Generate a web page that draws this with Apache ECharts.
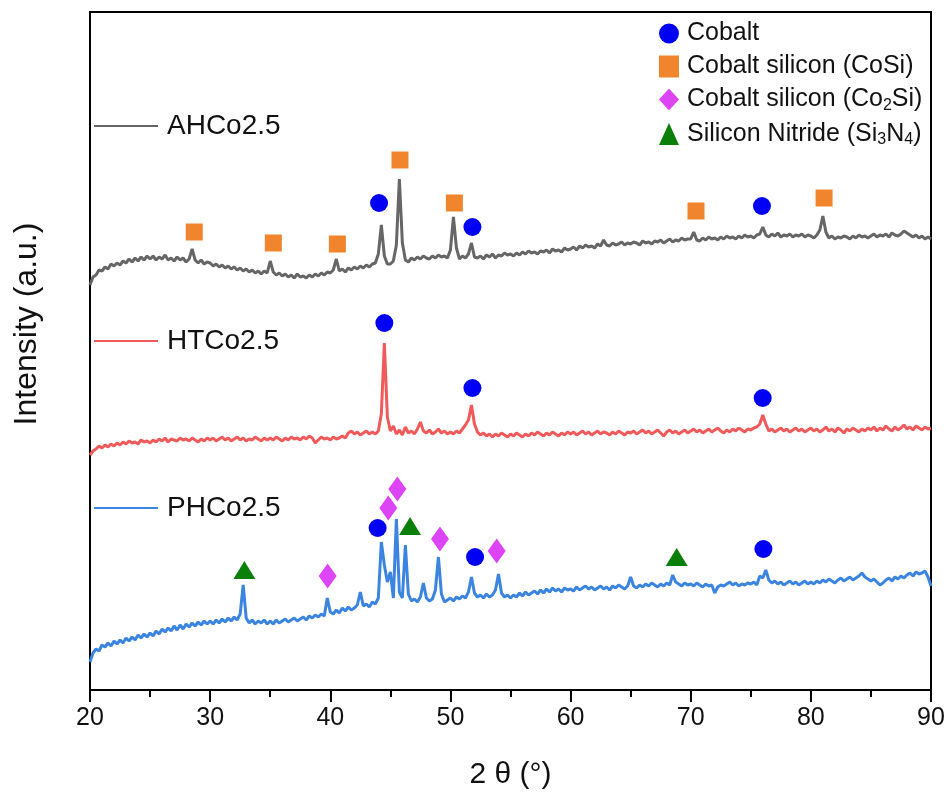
<!DOCTYPE html>
<html>
<head>
<meta charset="utf-8">
<style>
  html, body { margin: 0; padding: 0; background: #fff; }
  #chart { width: 949px; height: 798px; }
</style>
<script src="https://cdn.jsdelivr.net/npm/echarts@6/dist/echarts.min.js"></script>
</head>
<body>
<div id="chart"></div>
<script>
// XRD patterns, 2θ from 20° to 90° sampled every 0.25°; intensities are stacked (offset) in arbitrary units.
const thetaStart = 20;
const thetaStep = 0.25;
const xTicks = [20, 30, 40, 50, 60, 70, 80, 90];

const ahIntensity = [
  405, 413, 415, 420, 419, 423, 421, 426, 424, 427, 425, 429, 427, 431, 428, 432, 429, 433, 430, 434,
  431, 434, 430, 433, 431, 435, 430, 432, 429, 433, 430, 432, 428, 431, 441, 430, 427, 430, 426, 428,
  427, 424, 426, 423, 425, 422, 424, 421, 423, 420, 422, 419, 421, 418, 420, 417, 419, 416, 419, 417,
  429, 418, 415, 417, 414, 416, 413, 415, 412, 416, 413, 414, 412, 415, 413, 416, 414, 417, 415, 418,
  417, 420, 431, 419, 421, 418, 422, 420, 423, 421, 424, 422, 425, 423, 426, 427, 436, 465, 434, 426,
  426, 429, 445, 511, 447, 430, 428, 432, 430, 433, 431, 434, 432, 431, 434, 432, 435, 433, 434, 432,
  440, 473, 442, 431, 434, 432, 436, 447, 433, 432, 434, 431, 435, 433, 436, 432, 435, 434, 437, 435,
  436, 434, 437, 435, 438, 436, 439, 437, 438, 436, 439, 438, 440, 437, 441, 439, 440, 438, 442, 440,
  441, 443, 440, 444, 442, 445, 443, 444, 442, 446, 444, 450, 445, 444, 447, 445, 446, 448, 445, 447,
  446, 448, 447, 445, 449, 447, 448, 446, 449, 448, 450, 447, 449, 451, 448, 450, 449, 452, 450, 451,
  451, 458, 450, 449, 452, 450, 453, 451, 452, 450, 453, 451, 454, 452, 453, 451, 454, 452, 455, 453,
  454, 452, 455, 456, 463, 455, 453, 456, 454, 457, 453, 455, 454, 456, 453, 455, 454, 456, 453, 455,
  454, 452, 455, 460, 474, 458, 452, 454, 451, 453, 452, 454, 453, 451, 454, 452, 455, 453, 454, 452,
  454, 456, 453, 455, 454, 456, 453, 457, 455, 454, 456, 459, 457, 455, 453, 455, 452, 454, 451, 453,
  451
];

const htIntensity = [
  235, 239, 241, 244, 242, 245, 243, 246, 244, 247, 245, 248, 246, 249, 247, 248, 246, 250, 248, 249,
  247, 250, 248, 251, 249, 252, 248, 251, 250, 249, 252, 250, 251, 249, 252, 250, 248, 251, 249, 252,
  250, 252, 249, 251, 253, 250, 252, 249, 251, 253, 250, 252, 249, 251, 250, 253, 251, 249, 252, 250,
  252, 250, 253, 251, 249, 252, 250, 253, 251, 252, 250, 253, 251, 254, 252, 247, 250, 253, 251, 252,
  250, 253, 251, 252, 254, 252, 257, 259, 256, 258, 255, 257, 259, 256, 258, 256, 259, 276, 347, 273,
  259, 264, 256, 260, 255, 263, 257, 259, 256, 261, 268, 259, 257, 260, 256, 258, 261, 257, 259, 256,
  258, 256, 259, 257, 261, 265, 270, 285, 266, 258, 255, 257, 254, 256, 253, 256, 254, 257, 255, 253,
  256, 254, 257, 255, 253, 256, 254, 257, 255, 258, 256, 254, 257, 255, 258, 256, 254, 257, 255, 258,
  256, 258, 255, 257, 259, 256, 258, 255, 257, 259, 256, 258, 257, 255, 258, 256, 259, 257, 255, 258,
  257, 259, 256, 258, 260, 257, 259, 256, 258, 260, 257, 254, 258, 260, 257, 259, 256, 258, 260, 257,
  259, 261, 258, 260, 257, 259, 261, 258, 260, 262, 259, 257, 260, 258, 261, 259, 262, 260, 258, 261,
  260, 262, 263, 266, 275, 266, 259, 261, 258, 260, 262, 259, 261, 258, 260, 262, 259, 261, 258, 260,
  262, 259, 261, 258, 260, 263, 259, 261, 258, 262, 260, 257, 261, 259, 262, 260, 258, 261, 259, 262,
  260, 263, 259, 262, 260, 264, 261, 259, 263, 260, 262, 265, 261, 263, 260, 264, 262, 260, 263, 261,
  262
];

const phIntensity = [
  28, 37, 41, 39, 45, 43, 47, 44, 49, 46, 50, 47, 52, 49, 53, 50, 55, 52, 56, 53,
  57, 54, 59, 56, 61, 58, 62, 59, 64, 60, 65, 61, 66, 63, 67, 64, 68, 65, 69, 66,
  69, 66, 70, 67, 71, 68, 72, 69, 73, 70, 76, 105, 72, 67, 70, 66, 69, 67, 70, 66,
  69, 66, 70, 67, 69, 71, 68, 70, 72, 69, 71, 73, 70, 74, 72, 75, 73, 76, 74, 92,
  78, 76, 80, 77, 82, 79, 83, 80, 82, 85, 98, 84, 86, 83, 88, 86, 92, 148, 125, 108,
  118, 92, 171, 98, 92, 145, 96, 89, 91, 88, 93, 107, 92, 89, 91, 100, 133, 96, 88, 90,
  92, 89, 93, 91, 94, 92, 98, 113, 97, 93, 95, 92, 96, 93, 95, 100, 116, 97, 93, 95,
  92, 95, 93, 97, 94, 98, 95, 97, 99, 96, 100, 97, 101, 98, 102, 99, 101, 98, 102, 100,
  101, 99, 103, 100, 102, 104, 101, 103, 100, 102, 104, 101, 103, 100, 104, 102, 105, 103, 101, 104,
  113, 104, 102, 105, 103, 106, 104, 107, 105, 103, 106, 104, 107, 105, 115, 108, 106, 104, 107, 105,
  106, 104, 107, 105, 103, 106, 104, 105, 97, 103, 105, 104, 106, 108, 105, 107, 104, 106, 105, 107,
  106, 108, 105, 114, 112, 120, 110, 107, 109, 106, 108, 105, 107, 109, 106, 108, 105, 107, 109, 106,
  108, 106, 109, 107, 110, 108, 111, 109, 107, 110, 112, 109, 111, 113, 110, 112, 114, 117, 113, 111,
  109, 111, 108, 105, 107, 110, 112, 109, 113, 111, 114, 112, 115, 117, 114, 118, 116, 117, 119, 113,
  104
];

// Phase markers: [2θ, height in the stacked intensity units]
const cobaltMarks = [
  [44.06, 487], [51.83, 463], [75.93, 484],
  [44.5, 367], [51.83, 302], [75.99, 292],
  [43.94, 162], [52.05, 133], [76.05, 141]
];
const cosiMarks = [
  [28.68, 458], [35.26, 447], [40.59, 446], [45.8, 530], [50.33, 487], [70.44, 479], [81.1, 492]
];
const co2siMarks = [
  [39.78, 114], [44.83, 182], [45.58, 201], [49.13, 151], [53.85, 139]
];
const si3n4Marks = [
  [32.85, 120], [46.64, 164], [68.83, 133]
];

const sampleNames = ['AHCo2.5', 'HTCo2.5', 'PHCo2.5'];
const phaseNames = ['Cobalt', 'Cobalt silicon (CoSi)', 'Cobalt silicon (Co2Si)', 'Silicon Nitride (Si3N4)'];

function toPairs(values) {
  return values.map((v, i) => [thetaStart + i * thetaStep, v]);
}

const FONT = '"Liberation Sans", Arial, Helvetica, sans-serif';

const chart = echarts.init(document.getElementById('chart'), null, { renderer: 'canvas' });

function sampleLegend(name, top) {
  return {
    show: true,
    selectedMode: false,
    orient: 'horizontal',
    left: 94,
    top: top,
    padding: 0,
    itemWidth: 64,
    itemHeight: 2,
    data: [{ name: name, icon: 'rect' }],
    textStyle: { fontFamily: FONT, fontSize: 28, color: '#111', padding: [0, 0, 0, 4] }
  };
}

const phaseLabels = {
  'Cobalt': '{n|Cobalt}',
  'Cobalt silicon (CoSi)': '{n|Cobalt silicon (CoSi)}',
  'Cobalt silicon (Co2Si)': '{n|Cobalt silicon (Co}{s|2}{n|Si)}',
  'Silicon Nitride (Si3N4)': '{n|Silicon Nitride (Si}{s|3}{n|N}{s|4}{n|)}'
};

const option = {
  animation: false,
  backgroundColor: '#fff',
  grid: {
    left: 90, top: 12, right: 18, bottom: 108,
    show: true, borderColor: '#000', borderWidth: 2,
    outerBoundsMode: 'none'
  },
  xAxis: {
    type: 'value',
    min: xTicks[0], max: xTicks[xTicks.length - 1], interval: 10,
    name: '2 θ (°)',
    nameLocation: 'middle',
    nameGap: 70,
    nameTextStyle: { fontFamily: FONT, fontSize: 30, color: '#111' },
    axisLine: { show: true, lineStyle: { color: '#000', width: 2 } },
    axisTick: { show: true, inside: false, length: 12, lineStyle: { color: '#000', width: 2 } },
    minorTick: { show: true, splitNumber: 2, length: 7, lineStyle: { color: '#000', width: 2 } },
    axisLabel: { fontFamily: FONT, fontSize: 25, color: '#111', margin: 16 },
    splitLine: { show: false }
  },
  yAxis: {
    type: 'value',
    min: 0, max: 678,
    axisLine: { show: true, lineStyle: { color: '#000', width: 2 } },
    axisTick: { show: false },
    axisLabel: { show: false },
    splitLine: { show: false }
  },
  legend: [
    sampleLegend('AHCo2.5', 112),
    sampleLegend('HTCo2.5', 327),
    sampleLegend('PHCo2.5', 494),
    {
      show: true,
      selectedMode: false,
      orient: 'vertical',
      left: 659,
      top: 21,
      padding: 0,
      itemGap: 8,
      itemWidth: 20,
      itemHeight: 22,
      data: [
        { name: phaseNames[0], icon: 'circle' },
        { name: phaseNames[1], icon: 'rect' },
        { name: phaseNames[2], icon: 'diamond' },
        { name: phaseNames[3], icon: 'triangle' }
      ],
      formatter: name => phaseLabels[name],
      textStyle: {
        fontFamily: FONT, fontSize: 25, color: '#111', padding: [0, 0, 0, 3],
        rich: {
          n: { fontFamily: FONT, fontSize: 25, color: '#111' },
          s: { fontFamily: FONT, fontSize: 16, color: '#111', padding: [12, 0, 0, 0] }
        }
      }
    }
  ],
  graphic: [
    {
      type: 'text',
      x: 27, y: 324,
      rotation: Math.PI / 2,
      style: {
        text: 'Intensity (a.u.)',
        font: '32px ' + FONT,
        fill: '#111',
        align: 'center',
        verticalAlign: 'middle'
      }
    }
  ],
  series: [
    {
      name: sampleNames[0], type: 'line', data: toPairs(ahIntensity),
      showSymbol: false, color: '#666666', lineStyle: { width: 3, color: '#666666' }, z: 2
    },
    {
      name: sampleNames[1], type: 'line', data: toPairs(htIntensity),
      showSymbol: false, color: '#f05a5a', lineStyle: { width: 3, color: '#f05a5a' }, z: 2
    },
    {
      name: sampleNames[2], type: 'line', data: toPairs(phIntensity),
      showSymbol: false, color: '#3b84e0', lineStyle: { width: 3, color: '#3b84e0' }, z: 2
    },
    {
      name: phaseNames[0], type: 'scatter', data: cobaltMarks,
      symbol: 'circle', symbolSize: 18, itemStyle: { color: '#0000f5', opacity: 1 }, z: 3
    },
    {
      name: phaseNames[1], type: 'scatter', data: cosiMarks,
      symbol: 'rect', symbolSize: 17, itemStyle: { color: '#f0852d', opacity: 1 }, z: 3
    },
    {
      name: phaseNames[2], type: 'scatter', data: co2siMarks,
      symbol: 'diamond', symbolSize: [18, 25], itemStyle: { color: '#dd44f5', opacity: 1 }, z: 3
    },
    {
      name: phaseNames[3], type: 'scatter', data: si3n4Marks,
      symbol: 'triangle', symbolSize: [22, 18], itemStyle: { color: '#0a800a', opacity: 1 }, z: 3
    }
  ]
};

chart.setOption(option);
</script>
</body>
</html>
